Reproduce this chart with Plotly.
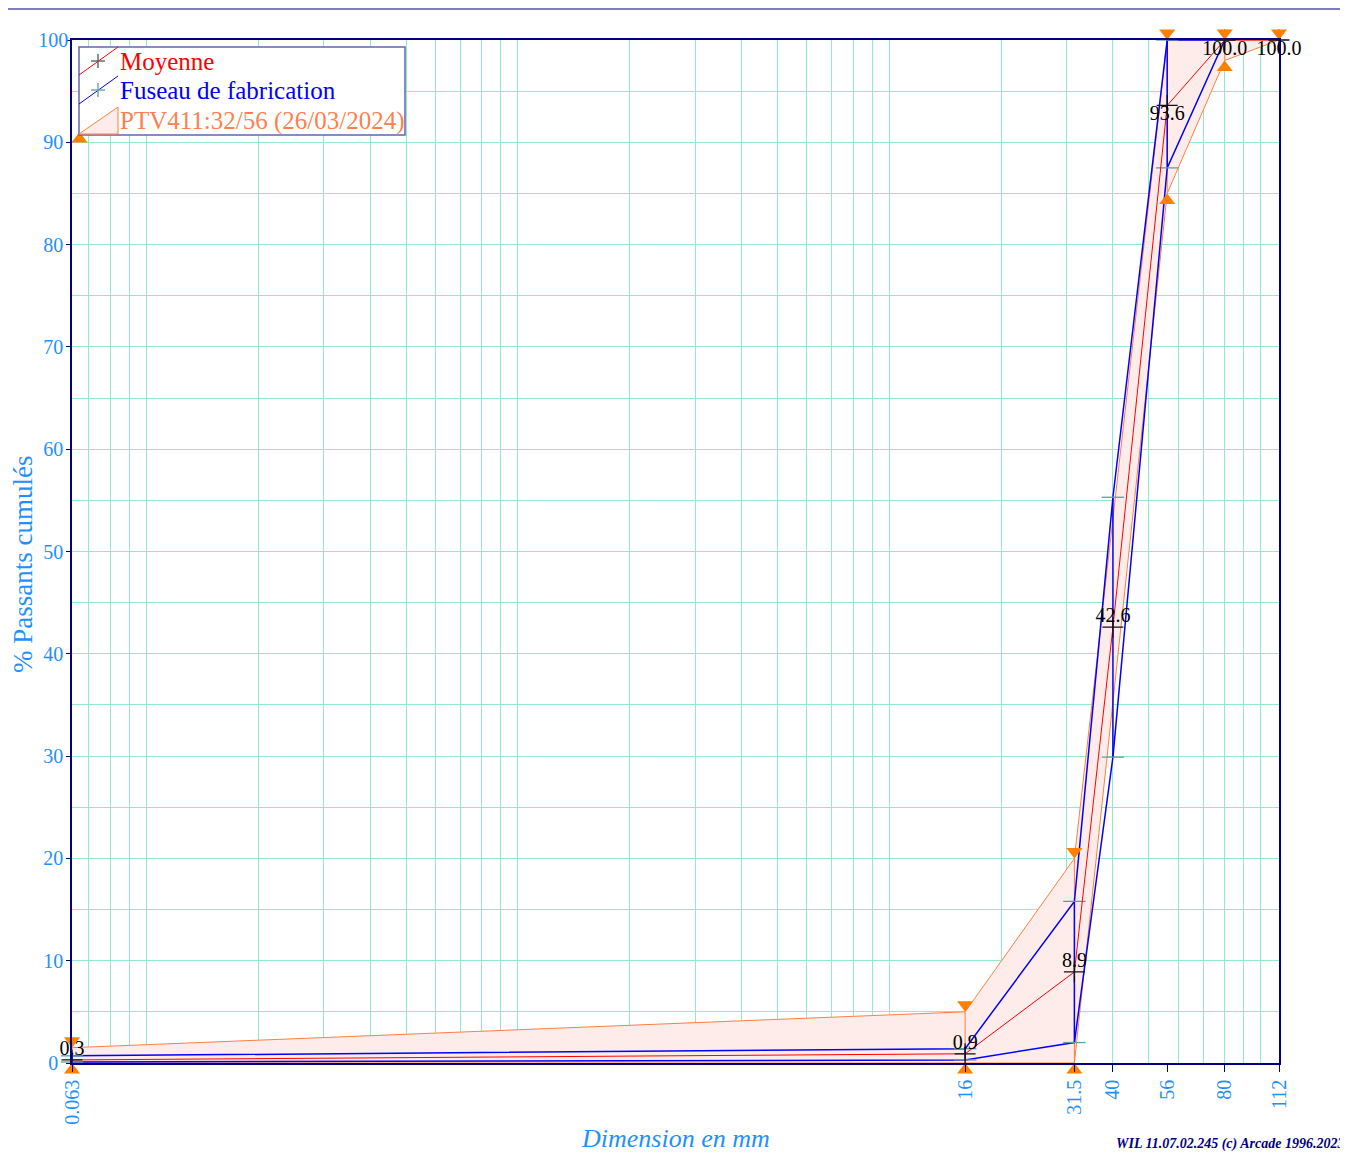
import math
import plotly.graph_objects as go

# ---------------- data ----------------
sieves = [0.063, 16, 31.5, 40, 56, 80, 112]
sieve_labels = ["0.063", "16", "31.5", "40", "56", "80", "112"]

y_ticks = [0, 10, 20, 30, 40, 50, 60, 70, 80, 90, 100]
# labels are centred in the reference: pad the shorter ones on the right
y_tick_labels = ["0\u2007", "10\u2008", "20\u2008", "30\u2008", "40\u2008", "50\u2008",
                 "60\u2008", "70\u2008", "80\u2008", "90\u2008", "100"]

moyenne = [0.3, 0.9, 8.9, 42.6, 93.6, 100.0, 100.0]
moyenne_textpos = ["top center", "top center", "top center", "top center",
                   "bottom center", "bottom center", "bottom center"]

fuseau_x = [0.063, 16, 31.5, 40, 56, 80]
fuseau_min = [0.1, 0.3, 2.0, 29.9, 87.5, 100.0]
fuseau_max = [0.7, 1.4, 15.8, 55.3, 100.0, 100.0]

spec_x = [0.063, 16, 31.5, 56, 80, 112]
spec_max = [1.5, 5.0, 20.0, 100.0, 100.0, 100.0]
spec_min = [0.0, 0.0, 0.0, 85.0, 98.0, 100.0]

max_marker_x = [0.063, 16, 31.5, 56, 80, 112]
max_marker_y = [1.5, 5.0, 20.0, 100.0, 100.0, 100.0]
min_marker_x = [0.063, 16, 31.5, 56, 80, 0.066]
min_marker_y = [0.0, 0.0, 0.0, 85.0, 98.0, 91.0]

grid_x = [0.07, 0.08, 0.09, 0.1, 0.2, 0.3, 0.4, 0.5, 0.6, 0.7, 0.8, 0.9,
          1, 2, 3, 4, 5, 6, 7, 8, 9, 10, 20, 30, 40, 50, 60, 70, 80, 90, 100]

legend_names = ["Moyenne", "Fuseau de fabrication", "PTV411:32/56 (26/03/2024)"]

# ---------------- styles / layout (page pixels; the page body adds 8px) ----------------
PAGE_W, PAGE_H = 1348, 1153
OFF = 8
W, H = PAGE_W - OFF, PAGE_H - OFF
PL, PR, PT, PB = 72, 1279, 40, 1063          # plot area in page pixels
ML, MT = PL - OFF, PT - OFF
MR, MB = PAGE_W - PR, PAGE_H - PB
PW = PR - PL
PH = PB - PT
SERIF = "Liberation Serif, Times New Roman, serif"
GRID = "#93EACB"
NAVY = "#000080"
TICKBLUE = "#1E90FF"
ORANGE_LINE = "#FF8040"
ORANGE_MK = "#FF8000"
PINK = "#FDECEA"


def px(x):
    return (x - PL) / PW


def py(y):
    return (PB - y) / PH


def connectors(xs, lo, hi):
    X, Y = [], []
    for x, a, b in zip(xs, lo, hi):
        X += [x, x, None]
        Y += [a, b, None]
    return X, Y


fig = go.Figure()

# specification band (filled polygon)
poly_x = spec_x + spec_x[::-1]
poly_y = spec_max + spec_min[::-1]
fig.add_trace(go.Scatter(x=poly_x, y=poly_y, mode="lines", fill="toself",
                         fillcolor=PINK, line=dict(color=ORANGE_LINE, width=1),
                         hoverinfo="skip", name=legend_names[2]))
cx, cy = connectors(spec_x, spec_min, spec_max)
fig.add_trace(go.Scatter(x=cx, y=cy, mode="lines",
                         line=dict(color=ORANGE_LINE, width=1), hoverinfo="skip"))

# fuseau de fabrication
fx, fy = connectors(fuseau_x, fuseau_min, fuseau_max)
fig.add_trace(go.Scatter(x=fx, y=fy, mode="lines",
                         line=dict(color="#0000FF", width=1.5), hoverinfo="skip"))
fig.add_trace(go.Scatter(x=fuseau_x, y=fuseau_max, mode="lines",
                         line=dict(color="#0000FF", width=1.5), name=legend_names[1]))
fig.add_trace(go.Scatter(x=fuseau_x, y=fuseau_min, mode="lines",
                         line=dict(color="#0000FF", width=1.5)))
fig.add_trace(go.Scatter(x=fuseau_x + fuseau_x, y=fuseau_min + fuseau_max,
                         mode="markers", cliponaxis=False,
                         marker=dict(symbol="line-ew", size=16,
                                     line=dict(color="#5F9EA0", width=1.3))))

# moyenne
fig.add_trace(go.Scatter(x=sieves, y=moyenne, mode="lines+markers",
                         name=legend_names[0], cliponaxis=False,
                         line=dict(color="#FF0000", width=1),
                         marker=dict(symbol="cross-thin", size=15,
                                     line=dict(color="#111111", width=1.3))))
fig.add_trace(go.Scatter(x=sieves, y=moyenne, mode="text", cliponaxis=False,
                         texttemplate="%{y:.1f}", textposition=moyenne_textpos,
                         textfont=dict(family=SERIF, size=20, color="black")))

# spec limit markers
fig.add_trace(go.Scatter(x=max_marker_x, y=max_marker_y, mode="markers",
                         cliponaxis=False,
                         marker=dict(symbol="triangle-up", angle=180, standoff=7,
                                     size=14, color=ORANGE_MK, line=dict(width=0))))
fig.add_trace(go.Scatter(x=min_marker_x, y=min_marker_y, mode="markers",
                         cliponaxis=False,
                         marker=dict(symbol="triangle-up", standoff=7,
                                     size=14, color=ORANGE_MK, line=dict(width=0))))

fig.update_layout(
    width=W, height=H,
    margin=dict(l=ML, r=MR, t=MT, b=MB),
    plot_bgcolor="white", paper_bgcolor="white",
    showlegend=False,
    font=dict(family=SERIF, color=TICKBLUE),
)

fig.update_xaxes(
    type="log", range=[math.log10(0.063), math.log10(112)],
    tickmode="array", tickvals=sieves, ticktext=sieve_labels, tickangle=-90,
    tickfont=dict(family=SERIF, size=20, color=TICKBLUE),
    ticks="outside", ticklen=7, tickcolor=NAVY, tickwidth=1,
    showgrid=False, zeroline=False,
    showline=True, linecolor=NAVY, linewidth=1.5, mirror=True,
    minor=dict(tickmode="array", tickvals=grid_x, showgrid=True,
               gridcolor=GRID, gridwidth=1, ticks=""),
)
fig.update_yaxes(
    range=[0, 100], tickmode="array", tickvals=y_ticks, ticktext=y_tick_labels,
    tickfont=dict(family=SERIF, size=20, color=TICKBLUE),
    ticks="outside", ticklen=4, tickcolor=NAVY, ticklabelstandoff=-6,
    showgrid=True, gridcolor=GRID, gridwidth=1, zeroline=False,
    showline=True, linecolor=NAVY, linewidth=1.5, mirror=True,
    minor=dict(dtick=5, showgrid=True, gridcolor=GRID, gridwidth=1, ticks=""),
)

shapes = []
# header rule
shapes.append(dict(type="line", xref="paper", yref="paper",
                   x0=px(0), x1=px(PAGE_W), y0=py(9), y1=py(9),
                   line=dict(color="#5050A8", width=1.5)))

# custom legend box
shapes.append(dict(type="rect", xref="paper", yref="paper",
                   x0=px(79), x1=px(405), y0=py(135), y1=py(47),
                   fillcolor="white", line=dict(color="#6464B0", width=1.5)))
# Moyenne sample
shapes.append(dict(type="line", xref="paper", yref="paper",
                   x0=px(79), y0=py(75), x1=px(118), y1=py(47),
                   line=dict(color="#FF0000", width=1)))
shapes.append(dict(type="line", xref="paper", yref="paper",
                   x0=px(91), y0=py(61), x1=px(105), y1=py(61),
                   line=dict(color="#555555", width=1.3)))
shapes.append(dict(type="line", xref="paper", yref="paper",
                   x0=px(98), y0=py(54), x1=px(98), y1=py(68),
                   line=dict(color="#555555", width=1.3)))
# Fuseau sample
shapes.append(dict(type="line", xref="paper", yref="paper",
                   x0=px(79), y0=py(104), x1=px(118), y1=py(76),
                   line=dict(color="#0000FF", width=1)))
shapes.append(dict(type="line", xref="paper", yref="paper",
                   x0=px(91), y0=py(90), x1=px(105), y1=py(90),
                   line=dict(color="#5F9EA0", width=1.3)))
shapes.append(dict(type="line", xref="paper", yref="paper",
                   x0=px(98), y0=py(83), x1=px(98), y1=py(97),
                   line=dict(color="#5F9EA0", width=1.3)))
# Spec sample (triangle)
shapes.append(dict(type="path", xref="paper", yref="paper",
                   path=(f"M {px(79)},{py(134)} L {px(118)},{py(107)} "
                         f"L {px(118)},{py(134)} Z"),
                   fillcolor=PINK, line=dict(color=ORANGE_LINE, width=1)))

annotations = []
leg_colors = ["#FF0000", "#0000FF", "#FF7F50"]
leg_y = [62, 91, 121]
for name, col, yy in zip(legend_names, leg_colors, leg_y):
    annotations.append(dict(text=name, xref="paper", yref="paper",
                            x=px(118), y=py(yy), xanchor="left", yanchor="middle",
                            showarrow=False,
                            font=dict(family=SERIF, size=25, color=col)))

annotations.append(dict(text="% Passants cumulés", xref="paper", yref="paper",
                        x=px(23), y=py(565), xanchor="center", yanchor="middle",
                        textangle=-90, showarrow=False,
                        font=dict(family=SERIF, size=27, color=TICKBLUE)))
annotations.append(dict(text="<i>Dimension en mm</i>", xref="paper", yref="paper",
                        x=px(675), y=py(1138), xanchor="center", yanchor="middle",
                        showarrow=False,
                        font=dict(family=SERIF, size=26, color=TICKBLUE)))
annotations.append(dict(text="<b><i>WIL 11.07.02.245 (c) Arcade 1996.2023</i></b>",
                        xref="paper", yref="paper",
                        x=px(1346), y=py(1144), xanchor="right", yanchor="middle",
                        showarrow=False,
                        font=dict(family=SERIF, size=14, color="#000080")))

fig.update_layout(shapes=shapes, annotations=annotations)

fig.write_html("out.html")
